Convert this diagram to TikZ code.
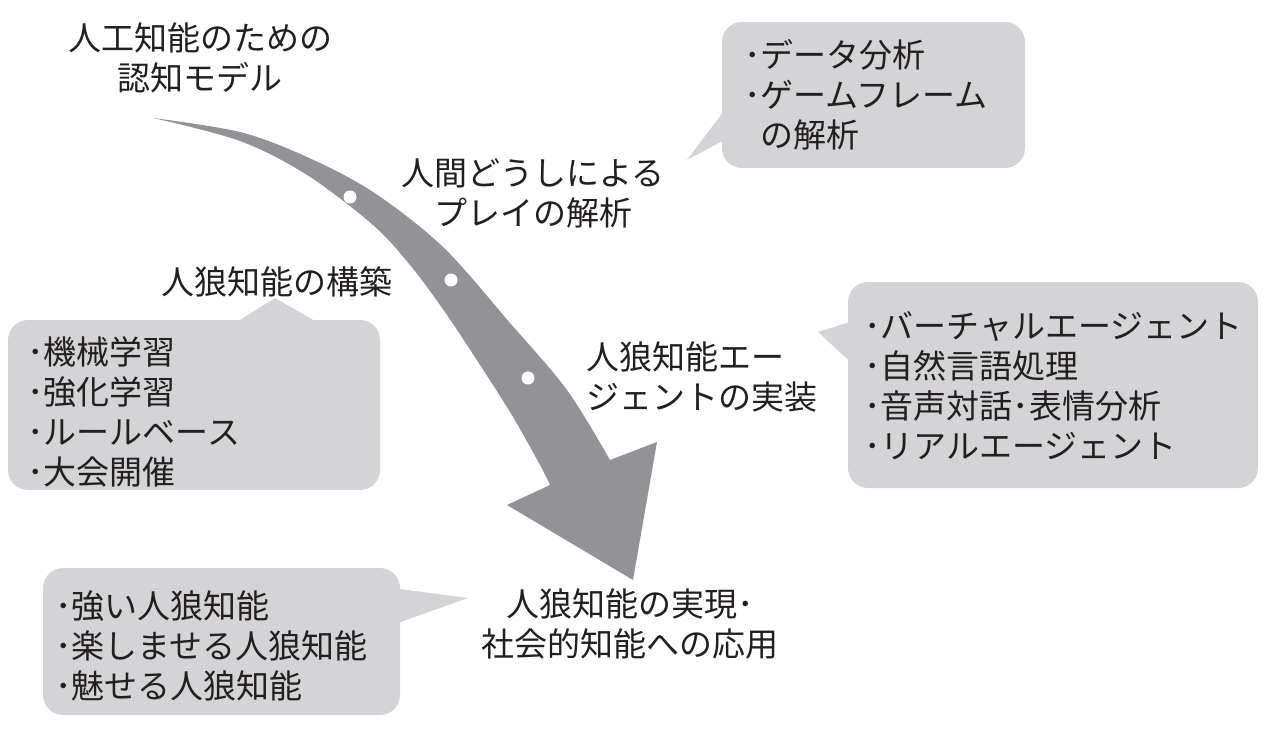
\documentclass[tikz,border=0pt]{standalone}
\usepackage{fontspec}
\setmainfont{Noto Sans CJK JP}
\definecolor{arrowgray}{HTML}{939397}
\definecolor{boxgray}{HTML}{D4D4D6}
\definecolor{ink}{HTML}{231F20}
\tikzset{
  lbl/.style={inner sep=0pt, text=ink, font=\fontsize{33}{40}\selectfont},
  boxfill/.style={fill=boxgray},
  dotmark/.style={circle, fill=white, inner sep=0pt, minimum size=13pt}
}
\begin{document}
\begin{tikzpicture}[x=1pt,y=-1pt]
\useasboundingbox (0,0) rectangle (1280,730);
% curved arrow
\fill[arrowgray] plot[smooth, tension=0.55] coordinates {(153,118) (240,132) (307,157) (373,192) (443,247) (510,323) (567,390) (610,460)}
  -- (657,442) -- (633,580) -- (507,505) -- (550,485)
  -- plot[smooth, tension=0.55] coordinates {(550,485) (540,465) (510,412) (467,345) (440,305) (410,265) (373,225) (307,175) (240,141) (153,118)} -- cycle;
\node[dotmark] (d1) at (350,197) {};
\node[dotmark] (d2) at (451,280) {};
\node[dotmark] (d3) at (528,378) {};
% callout boxes
\fill[boxfill, rounded corners=20pt] (722,22) rectangle (1025,168);
\fill[boxfill] (730,103) -- (687,160) -- (730,137) -- cycle;
\fill[boxfill, rounded corners=20pt] (8,320) rectangle (380,490);
\fill[boxfill] (232,325) -- (275,298) -- (322,325) -- cycle;
\fill[boxfill, rounded corners=20pt] (848,282) rectangle (1258,488);
\fill[boxfill] (856,320) -- (818,332) -- (856,367) -- cycle;
\fill[boxfill, rounded corners=20pt] (43,568) rectangle (400,715);
\fill[boxfill] (392,588) -- (468,598) -- (392,625) -- cycle;
% labels
\node[lbl, align=center] (t0) at (200,58) {人工知能のための\\認知モデル};
\node[lbl, align=center] (t1) at (533,193) {人間どうしによる\\プレイの解析};
\node[lbl] (t2) at (277,282) {人狼知能の構築};
\node[lbl, align=left, anchor=west] (t3) at (586,377) {人狼知能エー\\ジェントの実装};
\node[lbl, align=center] (t4) at (630,624) {人狼知能の実現･\\社会的知能への応用};
% box texts
\node[lbl, align=left, anchor=west] (b1) at (744,95) {･データ分析\\･ゲームフレーム\\\phantom{･}の解析};
\node[lbl, align=left, anchor=west] (b2) at (27,412) {･機械学習\\･強化学習\\･ルールベース\\･大会開催};
\node[lbl, align=left, anchor=west] (b3) at (864,386) {･バーチャルエージェント\\･自然言語処理\\･音声対話･表情分析\\･リアルエージェント};
\node[lbl, align=left, anchor=west] (b4) at (55,646) {･強い人狼知能\\･楽しませる人狼知能\\･魅せる人狼知能};
\end{tikzpicture}
\end{document}
